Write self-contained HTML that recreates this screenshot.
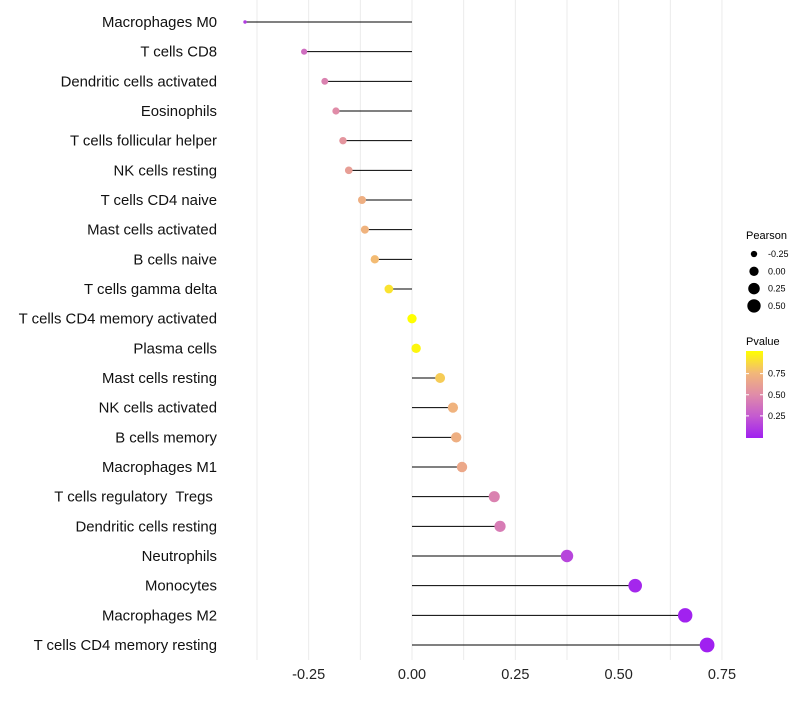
<!DOCTYPE html>
<html><head><meta charset="utf-8"><style>
body{margin:0;background:#fff;font-family:"Liberation Sans",sans-serif}
svg text{font-family:"Liberation Sans",sans-serif;white-space:pre}
</style></head><body>
<svg id="chart" width="800" height="700" xmlns="http://www.w3.org/2000/svg">
<g id="grid"></g>
<g id="marks"></g>
<g id="ylab"></g>
<g id="xlab"></g>
<g id="legend">
<defs><linearGradient id="pg" x1="0" y1="1" x2="0" y2="0">
<stop offset="0" stop-color="#a020f0"/><stop offset="0.25" stop-color="#c45ad0"/><stop offset="0.5" stop-color="#e08ca8"/><stop offset="0.75" stop-color="#f2b878"/><stop offset="1" stop-color="#ffff00"/></linearGradient></defs>
<text x="746" y="239" font-size="11">Pearson</text>
<text x="746" y="345" font-size="11">Pvalue</text>
<rect x="746" y="351" width="17" height="87" fill="url(#pg)"/>
</g>
</svg>
<script>
const categories=["Macrophages M0","T cells CD8","Dendritic cells activated","Eosinophils","T cells follicular helper","NK cells resting","T cells CD4 naive","Mast cells activated","B cells naive","T cells gamma delta","T cells CD4 memory activated","Plasma cells","Mast cells resting","NK cells activated","B cells memory","Macrophages M1","T cells regulatory  Tregs ","Dendritic cells resting","Neutrophils","Monocytes","Macrophages M2","T cells CD4 memory resting"];
const pearson=[-0.404,-0.261,-0.211,-0.184,-0.167,-0.153,-0.121,-0.114,-0.090,-0.056,0.0,0.01,0.068,0.099,0.107,0.121,0.199,0.213,0.375,0.540,0.661,0.714];
const pvalue=[0.12,0.35,0.45,0.5,0.55,0.6,0.7,0.72,0.76,0.9,1.0,0.97,0.82,0.72,0.7,0.66,0.45,0.42,0.16,0.03,0.01,0.0];
const xTicks=[-0.25,0,0.25,0.5,0.75];
const xTickLabels=["-0.25","0.00","0.25","0.50","0.75"];
const sizeLegendVals=[-0.25,0,0.25,0.5];
const sizeLegendLabels=["-0.25","0.00","0.25","0.50"];
const colorTicks=[0.25,0.5,0.75];
const colorTickLabels=["0.25","0.50","0.75"];
const NS="http://www.w3.org/2000/svg";
const x=v=>412+v*413.3;
const y=i=>22+i*29.667;
const r=v=>Math.sqrt(3+46*Math.max(0,v+0.404));
const stops=[[0,[160,32,240]],[0.25,[196,90,208]],[0.5,[224,140,168]],[0.75,[242,184,120]],[1,[255,255,0]]];
function col(p){p=Math.max(0,Math.min(1,p));for(let k=1;k<stops.length;k++){if(p<=stops[k][0]){const a=stops[k-1],b=stops[k],t=(p-a[0])/(b[0]-a[0]);return "rgb("+a[1].map((c,j)=>Math.round(c+(b[1][j]-c)*t)).join(",")+")";}}}
function mk(tag,at,parent){const e=document.createElementNS(NS,tag);for(const k in at)e.setAttribute(k,at[k]);parent.appendChild(e);return e;}
const grid=document.getElementById('grid'),marks=document.getElementById('marks'),ylab=document.getElementById('ylab'),xlab=document.getElementById('xlab'),leg=document.getElementById('legend');
for(let v=-0.375;v<=0.76;v+=0.125){const l=mk('line',{x1:x(v),x2:x(v),y1:0,y2:660,stroke:'#ebebeb','stroke-width':1},grid);

}
xTicks.forEach((v,i)=>{const t=mk('text',{x:x(v),y:679,'font-size':14.5,'text-anchor':'middle',fill:'#222'},xlab);t.textContent=xTickLabels[i];

});
categories.forEach((c,i)=>{
const t=mk('text',{x:217,y:y(i)+5,'font-size':14.9,'text-anchor':'end',fill:'#111'},ylab);t.textContent=c;


const ln=mk('line',{x1:x(0),x2:x(pearson[i]),y1:y(i),y2:y(i),stroke:'#000','stroke-width':1},marks);


const d=mk('circle',{cx:x(pearson[i]),cy:y(i),r:r(pearson[i]),fill:col(pvalue[i])},marks);


});
sizeLegendVals.forEach((v,i)=>{const cy=254+i*17.3;
const d=mk('circle',{cx:754,cy:cy,r:r(v),fill:'#000'},leg);


const t=mk('text',{x:768,y:cy+3,'font-size':9},leg);t.textContent=sizeLegendLabels[i];

});
colorTicks.forEach((p,i)=>{const cy=437-p*84.5;
const l=mk('line',{x1:746,x2:749,y1:cy,y2:cy,stroke:'#fff'},leg);


const l2=mk('line',{x1:760,x2:763,y1:cy,y2:cy,stroke:'#fff'},leg);


const t=mk('text',{x:768,y:cy+3,'font-size':9},leg);t.textContent=colorTickLabels[i];

});
</script>
</body></html>
